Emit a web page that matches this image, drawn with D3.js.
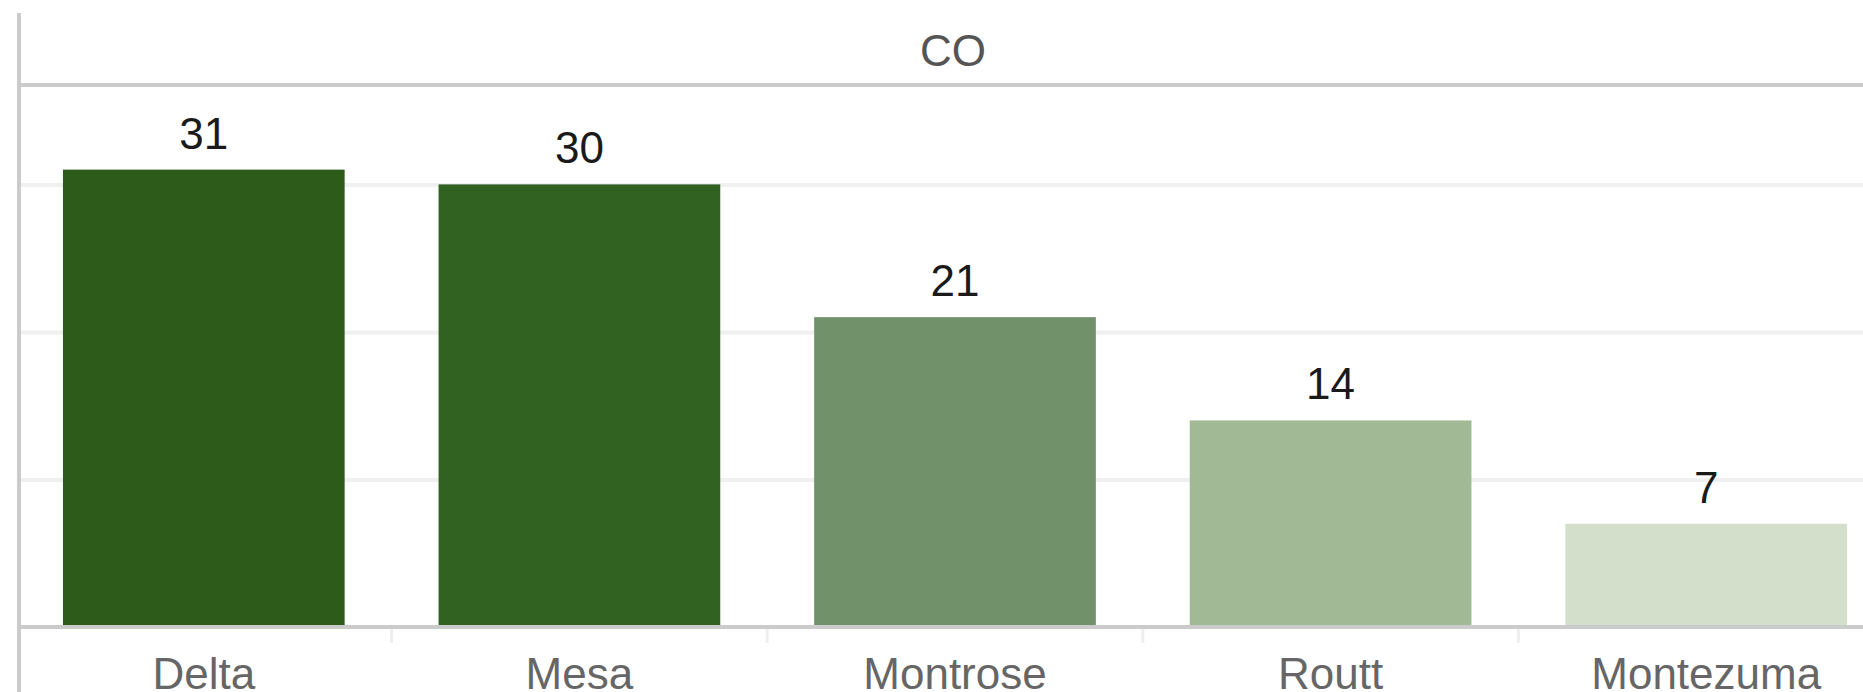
<!DOCTYPE html>
<html>
<head>
<meta charset="utf-8">
<script src="https://cdn.jsdelivr.net/npm/d3@7"></script>
<style>
  html, body { margin: 0; padding: 0; background: #ffffff; overflow: hidden; }
  svg { display: block; font-family: "Liberation Sans", Arial, sans-serif; }
</style>
</head>
<body>
<svg id="chart" width="1863" height="692"></svg>
<script>
// Counties in Colorado, sorted by count
const state = "CO";
const counties = ["Delta", "Mesa", "Montrose", "Routt", "Montezuma"];
const counts = [31, 30, 21, 14, 7];
const gridValues = [10, 20, 30];

// Sequential green palette keyed on the count
const colorStops = [7, 14, 21, 30, 31];
const colorRange = ["#d3dfca", "#a1b995", "#71916a", "#326222", "#2d5c1a"];

const W = 1863, H = 692;
const frameX = 19;          // left pane border
const headerLineY = 85;      // divider under the header
const baseY = 627;           // zero line

const svg = d3.select("#chart");

const x = d3.scaleBand()
  .domain(counties)
  .range([16, 1894])
  .paddingInner(0.25)
  .paddingOuter(0.125);

const y = d3.scaleLinear()
  .domain([0, 36.6])
  .range([baseY, 87]);

const color = d3.scaleLinear().domain(colorStops).range(colorRange);

// Horizontal gridlines
const grid = svg.append("g")
  .attr("transform", `translate(${frameX + 2},0)`)
  .call(d3.axisLeft(y).tickValues(gridValues).tickSize(-(W - frameX - 2)).tickFormat(""));
grid.select(".domain").remove();
grid.selectAll(".tick line").attr("stroke", "#f0f0f0").attr("stroke-width", 4);

// Bars
svg.append("g").selectAll("rect")
  .data(counties)
  .join("rect")
  .attr("x", d => x(d))
  .attr("width", x.bandwidth())
  .attr("y", (d, i) => y(counts[i]))
  .attr("height", (d, i) => y(0) - y(counts[i]))
  .attr("fill", (d, i) => color(counts[i]));

// Value labels
svg.append("g").selectAll("text")
  .data(counties)
  .join("text")
  .attr("x", d => x(d) + x.bandwidth() / 2)
  .attr("y", (d, i) => y(counts[i]) - 21)
  .attr("text-anchor", "middle")
  .attr("font-size", 44)
  .attr("fill", "#1a1a1a")
  .text((d, i) => counts[i]);

// Category axis
const xAxis = svg.append("g")
  .attr("transform", `translate(0,${baseY})`)
  .call(d3.axisBottom(x).tickSize(0).tickPadding(0));
xAxis.select(".domain").remove();
xAxis.selectAll(".tick text")
  .attr("y", 62)
  .attr("dy", null)
  .attr("font-size", 44)
  .attr("font-family", "Liberation Sans, Arial, sans-serif")
  .attr("fill", "#666666");

// Separators between category cells
const step = x.step();
svg.append("g").selectAll("line")
  .data(counties.slice(1))
  .join("line")
  .attr("x1", d => x(d) - (step - x.bandwidth()) / 2)
  .attr("x2", d => x(d) - (step - x.bandwidth()) / 2)
  .attr("y1", baseY + 2)
  .attr("y2", baseY + 16)
  .attr("stroke", "#efefef")
  .attr("stroke-width", 3);

// Zero line
svg.append("line")
  .attr("x1", frameX).attr("x2", W)
  .attr("y1", baseY).attr("y2", baseY)
  .attr("stroke", "#cbcbcb").attr("stroke-width", 4);

// Header divider and pane border
svg.append("line")
  .attr("x1", frameX).attr("x2", W)
  .attr("y1", headerLineY).attr("y2", headerLineY)
  .attr("stroke", "#cbcbcb").attr("stroke-width", 4);

svg.append("line")
  .attr("x1", frameX).attr("x2", frameX)
  .attr("y1", 13).attr("y2", H)
  .attr("stroke", "#cbcbcb").attr("stroke-width", 4);

// Header text
svg.append("text")
  .attr("x", (x.range()[0] + x.range()[1]) / 2 - 2)
  .attr("y", 66)
  .attr("text-anchor", "middle")
  .attr("font-size", 44)
  .attr("fill", "#555555")
  .text(state);
</script>
</body>
</html>
